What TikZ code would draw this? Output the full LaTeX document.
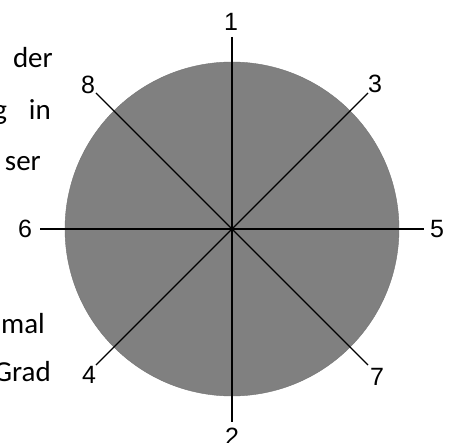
\documentclass[tikz,border=0pt]{standalone}
\usepackage{fontspec}
\setmainfont{Liberation Sans}
\newfontfamily\textfnt{Carlito}
\begin{document}
\begin{tikzpicture}[x=1pt,y=-1pt,
  num/.style={font=\fontsize{25}{29}\selectfont, inner sep=0pt},
  side/.style={font=\textfnt\fontsize{29}{33}\selectfont, inner sep=0pt, anchor=base east},
  ray/.style={line width=1.3pt, black}]
\useasboundingbox (0,0) rectangle (454,443);
\fill[gray!100, draw=gray!90!black, line width=0.4pt] (232,229) circle (167);
\node[circle, inner sep=0pt, minimum size=1pt] (c) at (232,229) {};
% ray end points
\coordinate (e1) at (232,37);
\coordinate (e2) at (232,422);
\coordinate (e6) at (40,229);
\coordinate (e5) at (424,229);
\coordinate (e8) at (96,93);
\coordinate (e7) at (368,365);
\coordinate (e3) at (368,93);
\coordinate (e4) at (96,365);
\draw[ray] (e1) -- (e2);
\draw[ray] (e6) -- (e5);
\draw[ray] (e8) -- (e7);
\draw[ray] (e3) -- (e4);
% labels
\node[num] (l1) at (231,22) {1};
\node[num] (l2) at (232,437) {2};
\node[num] (l3) at (375,84) {3};
\node[num] (l4) at (89,375) {4};
\node[num] (l5) at (437,229) {5};
\node[num] (l6) at (25,229) {6};
\node[num] (l7) at (377,377) {7};
\node[num] (l8) at (88,85) {8};
% cut-off text on the left
\node[side] (t1) at (53,68) {der};
\node[side] (t2) at (51,120) {g\hspace{22pt}in};
\node[side] (t3) at (41,171) {ser};
\node[side] (t4) at (45,333) {mal};
\node[side] (t5) at (51,381) {Grad};
\end{tikzpicture}
\end{document}
